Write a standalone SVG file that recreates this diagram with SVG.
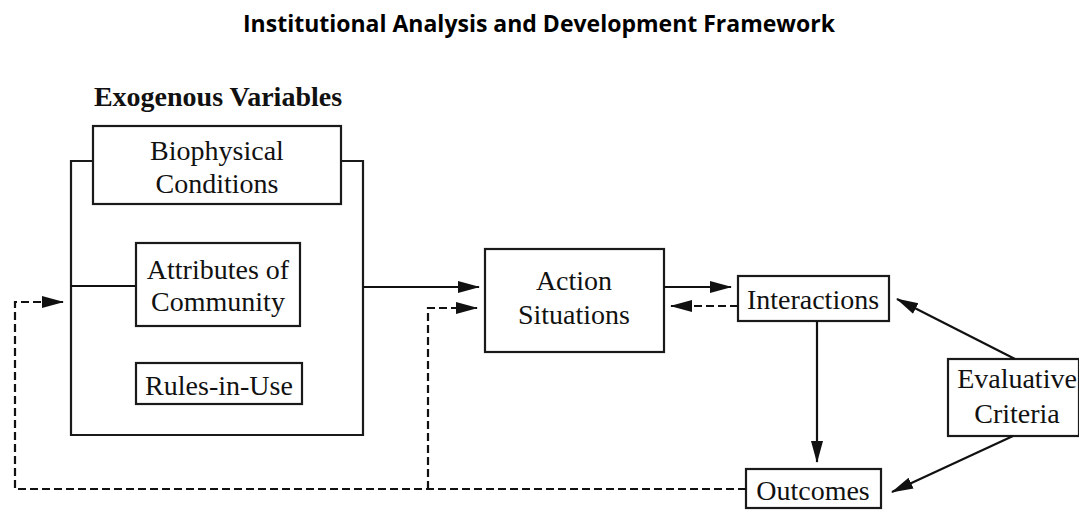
<svg xmlns="http://www.w3.org/2000/svg" width="1079" height="510" viewBox="0 0 1079 510">
<style>
.box{fill:#fff;stroke:#1a1a1a;stroke-width:2.2}
.frame{fill:none;stroke:#1a1a1a;stroke-width:2.2}
.t{font-family:"Liberation Serif","Times New Roman",serif;font-size:28px;fill:#111;text-anchor:middle}
.c{fill:none;stroke:#111;stroke-width:2.2}
.d{fill:none;stroke:#111;stroke-width:2.2;stroke-dasharray:8,4}
</style>
<defs>
<marker id="ah" markerUnits="userSpaceOnUse" markerWidth="24" markerHeight="14" refX="21" refY="6.5" orient="auto">
<path d="M0,0.5 L22,6.5 L0,12.5 z" fill="#111"/>
</marker>
</defs>
<text x="539" y="32" style="font-family:'Open Sans','Liberation Sans',sans-serif;font-weight:bold;font-size:23px;fill:#000" text-anchor="middle">Institutional Analysis and Development Framework</text>
<text x="218" y="106" class="t" style="font-weight:bold;font-size:28px">Exogenous Variables</text>
<g id="exogenous">
<path class="frame" d="M93,161 H71 V435 H363 V161 H341"/>
<line class="c" x1="71" y1="286" x2="136" y2="286"/>
</g>
<g id="biophysical">
<rect class="box" x="93" y="126" width="248" height="78"/>
<text class="t" x="217" y="160">Biophysical</text>
<text class="t" x="217" y="193">Conditions</text>
</g>
<g id="attributes">
<rect class="box" x="136" y="243" width="164" height="83"/>
<text class="t" x="218" y="279">Attributes of</text>
<text class="t" x="218" y="311">Community</text>
</g>
<g id="rules">
<rect class="box" x="136" y="363" width="166" height="41"/>
<text class="t" x="219" y="395">Rules-in-Use</text>
</g>
<g id="action">
<rect class="box" x="485" y="249" width="179" height="103"/>
<text class="t" x="574" y="290">Action</text>
<text class="t" x="574" y="324">Situations</text>
</g>
<g id="interactions">
<rect class="box" x="738" y="276" width="151" height="45"/>
<text class="t" x="813" y="309">Interactions</text>
</g>
<g id="outcomes">
<rect class="box" x="746" y="469" width="135" height="39"/>
<text class="t" x="813" y="500">Outcomes</text>
</g>
<g id="evaluative">
<rect class="box" x="948" y="359" width="131" height="77"/>
<text class="t" x="1017" y="388">Evaluative</text>
<text class="t" x="1017" y="423">Criteria</text>
</g>
<g id="connectors">
<line class="c" x1="363" y1="287" x2="479" y2="287" marker-end="url(#ah)"/>
<line class="c" x1="664" y1="287" x2="731" y2="287" marker-end="url(#ah)"/>
<line class="d" x1="738" y1="306" x2="671" y2="306" marker-end="url(#ah)"/>
<line class="c" x1="817" y1="321" x2="817" y2="462" marker-end="url(#ah)"/>
<line class="c" x1="1015" y1="359" x2="897" y2="299" marker-end="url(#ah)"/>
<line class="c" x1="1013" y1="436" x2="892" y2="492" marker-end="url(#ah)"/>
<path class="d" d="M746,489 H15 V302 H63" marker-end="url(#ah)"/>
<path class="d" d="M428,489 V308 H477" marker-end="url(#ah)"/>
</g>
</svg>
